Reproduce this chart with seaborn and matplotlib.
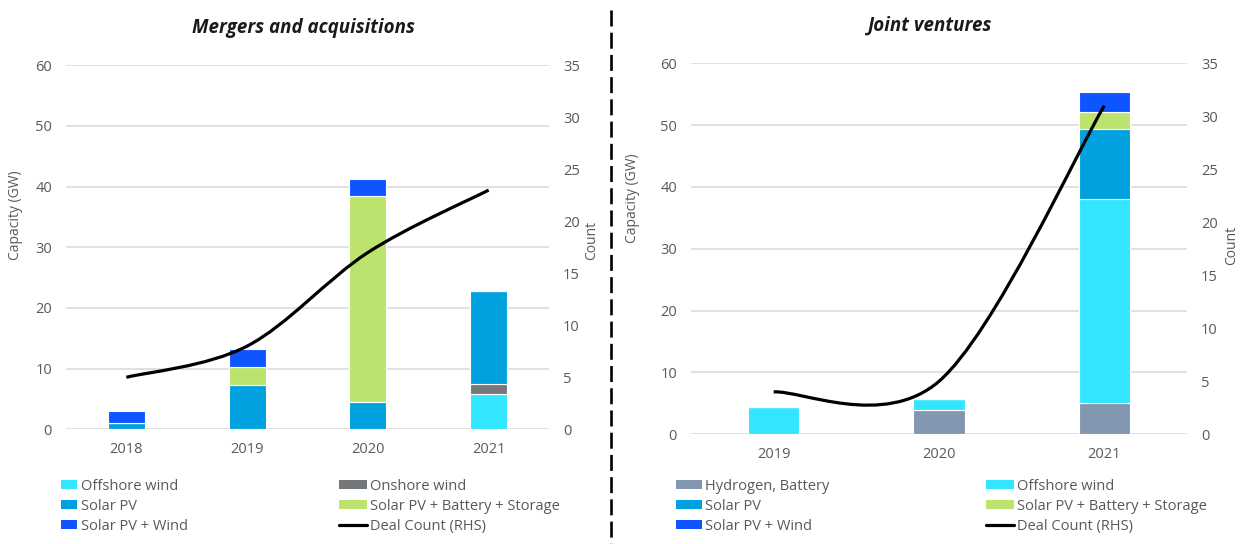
import numpy as np
import pandas as pd
import seaborn as sns
import matplotlib
matplotlib.use("Agg")
import matplotlib.pyplot as plt
from matplotlib.path import Path
from matplotlib.patches import PathPatch, Patch
from matplotlib.lines import Line2D

# ---------------- data ----------------
ma_years = ["2018", "2019", "2020", "2021"]
ma_offshore = [0, 0, 0, 5.8]
ma_onshore = [0, 0, 0, 1.6]
ma_solar = [1.0, 7.3, 4.5, 15.4]
ma_solar_bs = [0, 2.9, 33.9, 0]
ma_solar_wind = [2.0, 3.0, 2.9, 0]
ma_deals = [5, 8, 17, 23]

jv_years = ["2019", "2020", "2021"]
jv_hydrogen = [0, 3.9, 5.1]
jv_offshore = [4.4, 1.8, 33.0]
jv_solar = [0, 0, 11.3]
jv_solar_bs = [0, 0, 2.7]
jv_solar_wind = [0, 0, 3.2]
jv_deals = [4, 5, 31]

left_ticks = [0, 10, 20, 30, 40, 50, 60]
right_ticks = [0, 5, 10, 15, 20, 25, 30, 35]

C_OFF = "#33E6FF"
C_ON = "#75787B"
C_SOLAR = "#00A1DE"
C_SBS = "#BDE36F"
C_SW = "#0F55FF"
C_HYD = "#8497B0"
GRAY = "#595959"

sns.set_theme(style="white")
plt.rcParams["font.family"] = ["Open Sans", "DejaVu Sans"]
plt.rcParams["lines.scale_dashes"] = False

W, H = 1240, 544
fig = plt.figure(figsize=(W / 100, H / 100), dpi=100)


def px_ax(l, r, t, b):
    return fig.add_axes([l / W, 1 - b / H, (r - l) / W, (b - t) / H])


def smooth_path(xs, ys):
    pts = list(zip(xs, ys))
    n = len(pts)
    verts = [pts[0]]
    codes = [Path.MOVETO]
    for i in range(n - 1):
        p0 = pts[i - 1] if i > 0 else pts[i]
        p1 = pts[i]
        p2 = pts[i + 1]
        p3 = pts[i + 2] if i + 2 < n else pts[i + 1]
        c1 = (p1[0] + (p2[0] - p0[0]) / 6, p1[1] + (p2[1] - p0[1]) / 6)
        c2 = (p2[0] - (p3[0] - p1[0]) / 6, p2[1] - (p3[1] - p1[1]) / 6)
        verts += [c1, c2, p2]
        codes += [Path.CURVE4] * 3
    return Path(verts, codes)


def panel(ax, years, series, deals, bar_w):
    bottom = np.zeros(len(years))
    for name, vals, col in series:
        vals = np.asarray(vals, dtype=float)
        sns.barplot(x=years, y=vals, order=years, bottom=bottom, color=col,
                    saturation=1, width=bar_w, edgecolor="white", linewidth=0.8,
                    errorbar=None, ax=ax)
        bottom = bottom + vals
    ax.set_xlim(-0.5, len(years) - 0.5)
    ax.set_ylim(0, 60)
    ax.set_yticks(left_ticks)
    ax.yaxis.grid(True, color="#D9D9D9", linewidth=1.1)
    ax.xaxis.grid(False)
    ax.set_axisbelow(True)
    for s in ax.spines.values():
        s.set_visible(False)
    ax.tick_params(axis="y", length=0, pad=10, labelsize=10.5, labelcolor=GRAY)
    ax.tick_params(axis="x", length=0, pad=9, labelsize=10.5, labelcolor=GRAY)
    ax.set_xlabel("")
    ax.set_ylabel("")

    ax2 = ax.twinx()
    ax2.set_ylim(0, 35)
    ax2.set_yticks(right_ticks)
    for s in ax2.spines.values():
        s.set_visible(False)
    ax2.grid(False)
    ax2.tick_params(axis="y", length=0, pad=10, labelsize=10.5, labelcolor=GRAY)
    xs = np.arange(len(years), dtype=float)
    path = smooth_path(xs, deals)
    ax2.add_patch(PathPatch(path, transform=ax2.transData, fill=False,
                            edgecolor="black", linewidth=2.3))
    ax2.set_xlim(-0.5, len(years) - 0.5)
    return ax2


# ---------------- left panel ----------------
axL = px_ax(66, 549, 65.3, 429.3)
ma_series = [
    ("Offshore wind", ma_offshore, C_OFF),
    ("Onshore wind", ma_onshore, C_ON),
    ("Solar PV", ma_solar, C_SOLAR),
    ("Solar PV + Battery + Storage", ma_solar_bs, C_SBS),
    ("Solar PV + Wind", ma_solar_wind, C_SW),
]
panel(axL, ma_years, ma_series, ma_deals, 0.306)

# ---------------- right panel ----------------
axR = px_ax(691, 1187, 63.3, 434.3)
jv_series = [
    ("Hydrogen, Battery", jv_hydrogen, C_HYD),
    ("Offshore wind", jv_offshore, C_OFF),
    ("Solar PV", jv_solar, C_SOLAR),
    ("Solar PV + Battery + Storage", jv_solar_bs, C_SBS),
    ("Solar PV + Wind", jv_solar_wind, C_SW),
]
panel(axR, jv_years, jv_series, jv_deals, 0.31)

# ---------------- titles & labels ----------------
fig.text(303 / W, 1 - 28 / H, "Mergers and acquisitions", ha="center", va="center",
         fontsize=13.5, fontweight="bold", fontstyle="italic", color="#1a1a1a")
fig.text(930 / W, 1 - 26 / H, "Joint ventures", ha="center", va="center",
         fontsize=13.5, fontweight="bold", fontstyle="italic", color="#1a1a1a")

for x, y, t in [(16, 215, "Capacity (GW)"), (592, 240, "Count"),
                (632, 198, "Capacity (GW)"), (1232, 245, "Count")]:
    fig.text(x / W, 1 - y / H, t, rotation=90, ha="center", va="center",
             fontsize=10, color=GRAY)

# divider
fig.add_artist(Line2D([611 / W, 611 / W], [1 - 10 / H, 0], transform=fig.transFigure,
                      color="black", linewidth=1.9, linestyle=(0, (11.5, 4.5))))


# ---------------- legends ----------------
LEG_FS = 10.5


def leg(handles, labels, x, y, hl):
    lg = fig.legend(handles, labels, loc="upper left", bbox_to_anchor=(x / W, 1 - y / H),
                    frameon=False, fontsize=LEG_FS, labelcolor=GRAY, handlelength=hl,
                    handleheight=0.6, handletextpad=0.25, labelspacing=0.36,
                    borderaxespad=0, borderpad=0)
    return lg


def box(c):
    return Patch(facecolor=c, edgecolor="none")


line_h = Line2D([], [], color="black", linewidth=2.3)

leg([box(C_OFF), box(C_SOLAR), box(C_SW)],
    ["Offshore wind", "Solar PV", "Solar PV + Wind"], 61, 478.5, 1.1)
leg([box(C_ON), box(C_SBS), line_h],
    ["Onshore wind", "Solar PV + Battery + Storage", "Deal Count (RHS)"], 339, 478.5, 1.9)
leg([box(C_HYD), box(C_SOLAR), box(C_SW)],
    ["Hydrogen, Battery", "Solar PV", "Solar PV + Wind"], 676, 478.5, 1.75)
leg([box(C_OFF), box(C_SBS), line_h],
    ["Offshore wind", "Solar PV + Battery + Storage", "Deal Count (RHS)"], 986, 478.5, 1.9)

fig.savefig("out.png", dpi=100)
